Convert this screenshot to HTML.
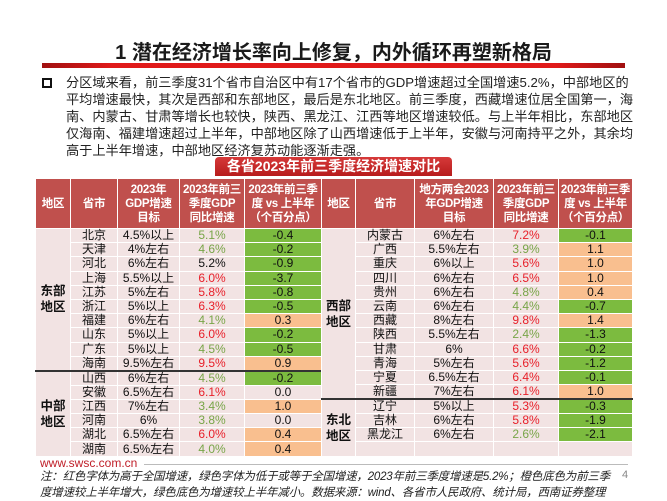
<!DOCTYPE html>
<html><head><meta charset="utf-8"><style>
*{margin:0;padding:0;box-sizing:border-box}
body{width:667px;height:500px;background:#fff;position:relative;overflow:hidden;font-family:"Liberation Sans","Noto Sans CJK SC",sans-serif;color:#111}
.title{position:absolute;top:36px;left:0;width:667px;text-align:center;font-size:20px;font-weight:bold;color:#1a1a1a}
.bar{position:absolute;left:42px;top:63px;width:583px;height:5px;background:linear-gradient(90deg,#a01010,#e01a1a 12%,#e01a1a 88%,#a01010)}
.para{position:absolute;left:66px;top:74px;width:590px;font-size:13.2px;line-height:17px;color:#222;white-space:nowrap}
.bul{position:absolute;left:42px;top:78px;width:10px;height:10px;border:2px solid #111}
.banner{position:absolute;left:215px;top:157px;width:237px;height:19px;background:linear-gradient(#d63a3a,#b71c1c);border-radius:4px 4px 0 0;color:#fff;font-weight:bold;font-size:14px;text-align:center;line-height:19px}
table{position:absolute;border-collapse:collapse;table-layout:fixed;font-size:12px}
td{border:1px solid #fff;text-align:center;padding:0;height:14.2px;line-height:13px;background:#f2e3e3;white-space:nowrap}
th{background:#c0504d;color:#fff;border:1px solid #fff;font-size:11.5px;line-height:14px;height:50px;font-weight:bold;white-space:nowrap;letter-spacing:-0.3px}
td.r{font-weight:bold;font-size:12.5px;line-height:16px}
.red{color:#e8202a}.gr{color:#78a548}
td.g{background:#7cbb3f}td.o{background:#f9bf8f}td.p{background:#f2e3e3}
tr.sep td{border-top:2px solid #333}
.foot{position:absolute;left:40px;top:456px;font-size:12px;color:#c0202a}
.line{position:absolute;left:144px;top:464px;width:484px;height:1px;background:#bbb}
.note{position:absolute;left:40px;top:469px;font-size:11.5px;line-height:16px;font-style:italic;color:#222;white-space:nowrap;letter-spacing:-0.2px}
.pn{position:absolute;left:622px;top:469px;font-size:11px;color:#888}
</style></head><body>
<div class="title">1 潜在经济增长率向上修复，内外循环再塑新格局</div>
<div class="bar"></div>
<div class="bul"></div>
<div class="para">分区域来看，前三季度31个省市自治区中有17个省市的GDP增速超过全国增速5.2%，中部地区的<br>平均增速最快，其次是西部和东部地区，最后是东北地区。前三季度，西藏增速位居全国第一，海<br>南、内蒙古、甘肃等增长也较快，陕西、黑龙江、江西等地区增速较低。与上半年相比，东部地区<br>仅海南、福建增速超过上半年，中部地区除了山西增速低于上半年，安徽与河南持平之外，其余均<br>高于上半年增速，中部地区经济复苏动能逐渐走强。</div>
<div class="banner">各省2023年前三季度经济增速对比</div>

<table style="left:35px;top:178px;width:286px">
<colgroup><col style="width:35px"><col style="width:47px"><col style="width:62px"><col style="width:65px"><col style="width:77px"></colgroup>
<tr><th>地区</th><th>省市</th><th>2023年<br>GDP增速<br>目标</th><th>2023年前三<br>季度GDP<br>同比增速</th><th>2023年前三季<br>度 vs 上半年<br>（个百分点）</th></tr>
<tr><td class="r" rowspan="10">东部<br>地区</td><td>北京</td><td>4.5%以上</td><td class="gr">5.1%</td><td class="g">-0.4</td></tr>
<tr><td>天津</td><td>4%左右</td><td class="gr">4.6%</td><td class="g">-0.2</td></tr>
<tr><td>河北</td><td>6%左右</td><td>5.2%</td><td class="g">-0.9</td></tr>
<tr><td>上海</td><td>5.5%以上</td><td class="red">6.0%</td><td class="g">-3.7</td></tr>
<tr><td>江苏</td><td>5%左右</td><td class="red">5.8%</td><td class="g">-0.8</td></tr>
<tr><td>浙江</td><td>5%以上</td><td class="red">6.3%</td><td class="g">-0.5</td></tr>
<tr><td>福建</td><td>6%左右</td><td class="gr">4.1%</td><td class="o">0.3</td></tr>
<tr><td>山东</td><td>5%以上</td><td class="red">6.0%</td><td class="g">-0.2</td></tr>
<tr><td>广东</td><td>5%以上</td><td class="gr">4.5%</td><td class="g">-0.5</td></tr>
<tr><td>海南</td><td>9.5%左右</td><td class="red">9.5%</td><td class="o">0.9</td></tr>
<tr class="sep"><td class="r" rowspan="6">中部<br>地区</td><td>山西</td><td>6%左右</td><td class="gr">4.5%</td><td class="g">-0.2</td></tr>
<tr><td>安徽</td><td>6.5%左右</td><td class="red">6.1%</td><td class="p">0.0</td></tr>
<tr><td>江西</td><td>7%左右</td><td class="gr">3.4%</td><td class="o">1.0</td></tr>
<tr><td>河南</td><td>6%</td><td class="gr">3.8%</td><td class="p">0.0</td></tr>
<tr><td>湖北</td><td>6.5%左右</td><td class="red">6.0%</td><td class="o">0.4</td></tr>
<tr><td>湖南</td><td>6.5%左右</td><td class="gr">4.0%</td><td class="o">0.4</td></tr>
</table>

<table style="left:321px;top:178px;width:311px">
<colgroup><col style="width:34px"><col style="width:59px"><col style="width:79px"><col style="width:65px"><col style="width:74px"></colgroup>
<tr><th>地区</th><th>省市</th><th>地方两会2023<br>年GDP增速<br>目标</th><th>2023年前三<br>季度GDP<br>同比增速</th><th>2023年前三季<br>度 vs 上半年<br>（个百分点）</th></tr>
<tr><td class="r" rowspan="12">西部<br>地区</td><td>内蒙古</td><td>6%左右</td><td class="red">7.2%</td><td class="g">-0.1</td></tr>
<tr><td>广西</td><td>5.5%左右</td><td class="gr">3.9%</td><td class="o">1.1</td></tr>
<tr><td>重庆</td><td>6%以上</td><td class="red">5.6%</td><td class="o">1.0</td></tr>
<tr><td>四川</td><td>6%左右</td><td class="red">6.5%</td><td class="o">1.0</td></tr>
<tr><td>贵州</td><td>6%左右</td><td class="gr">4.8%</td><td class="o">0.4</td></tr>
<tr><td>云南</td><td>6%左右</td><td class="gr">4.4%</td><td class="g">-0.7</td></tr>
<tr><td>西藏</td><td>8%左右</td><td class="red">9.8%</td><td class="o">1.4</td></tr>
<tr><td>陕西</td><td>5.5%左右</td><td class="gr">2.4%</td><td class="g">-1.3</td></tr>
<tr><td>甘肃</td><td>6%</td><td class="red">6.6%</td><td class="g">-0.2</td></tr>
<tr><td>青海</td><td>5%左右</td><td class="red">5.6%</td><td class="g">-1.2</td></tr>
<tr><td>宁夏</td><td>6.5%左右</td><td class="red">6.4%</td><td class="g">-0.1</td></tr>
<tr><td>新疆</td><td>7%左右</td><td class="red">6.1%</td><td class="o">1.0</td></tr>
<tr class="sep"><td class="r" rowspan="4">东北<br>地区</td><td>辽宁</td><td>5%以上</td><td class="red">5.3%</td><td class="g">-0.3</td></tr>
<tr><td>吉林</td><td>6%左右</td><td class="red">5.8%</td><td class="g">-1.9</td></tr>
<tr><td>黑龙江</td><td>6%左右</td><td class="gr">2.6%</td><td class="g">-2.1</td></tr>
<tr><td></td><td></td><td></td><td class="p"></td></tr>
</table>

<div class="foot">www.swsc.com.cn</div>
<div class="line"></div>
<div class="note">注：红色字体为高于全国增速，绿色字体为低于或等于全国增速，2023年前三季度增速是5.2%；橙色底色为前三季<br>度增速较上半年增大，绿色底色为增速较上半年减小。数据来源：wind、各省市人民政府、统计局，西南证券整理</div>
<div class="pn">4</div>
</body></html>
